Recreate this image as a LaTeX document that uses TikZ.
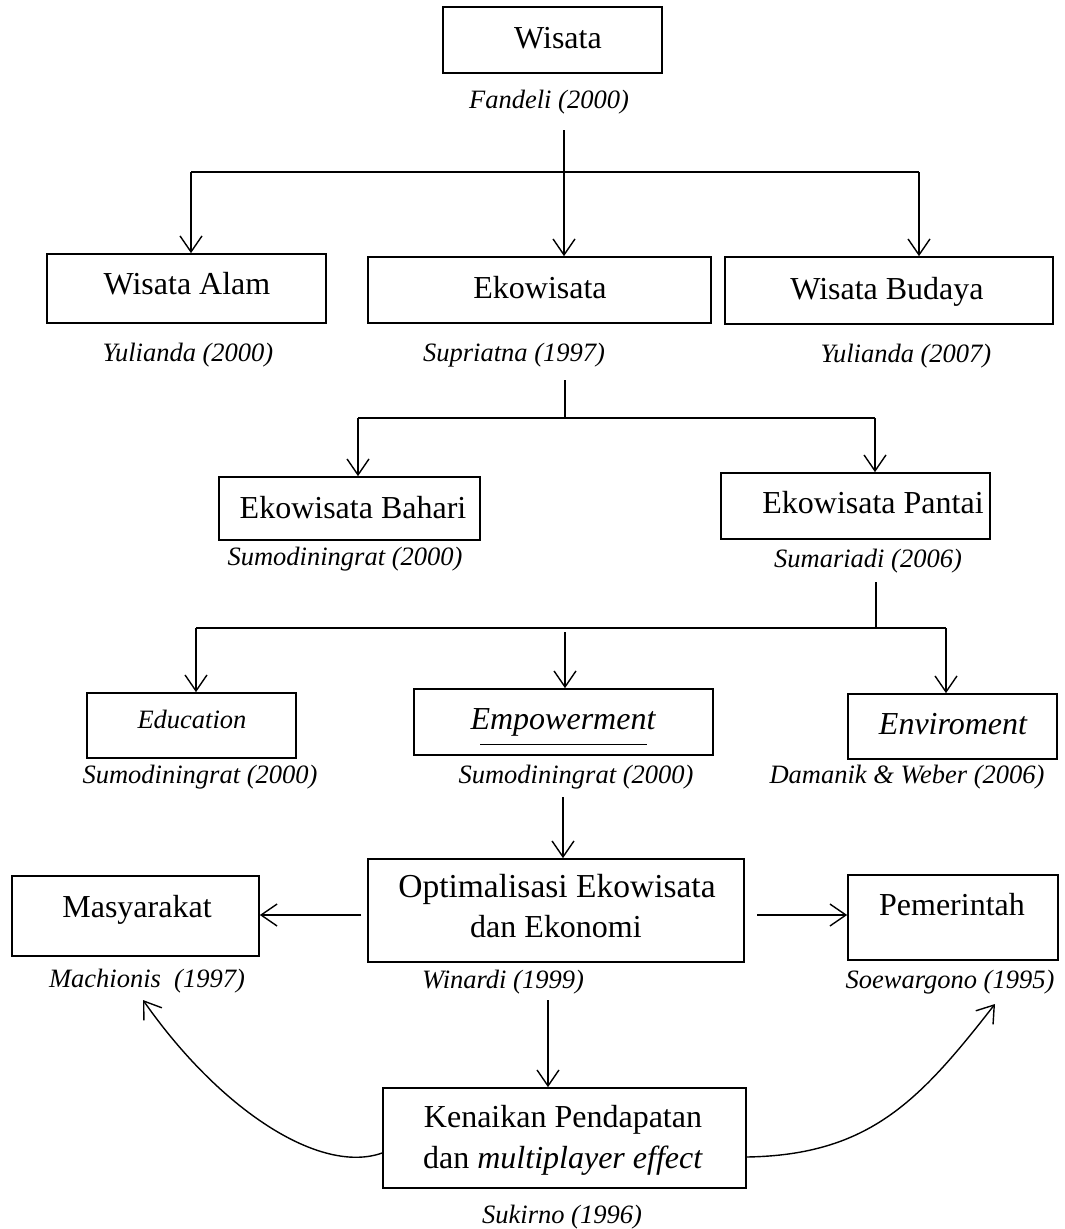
\documentclass[tikz,border=0pt]{standalone}
\usepackage{fontspec}
\setmainfont{Liberation Serif}
\usetikzlibrary{arrows.meta,fit}
\begin{document}
\begin{tikzpicture}[x=1pt,y=-1pt,
  box/.style={draw, line width=1.7pt, inner sep=0pt},
  lbl/.style={font=\fontsize{32}{40}\selectfont, anchor=base, inner sep=0pt},
  ref/.style={font=\fontsize{26.5}{32}\selectfont\itshape, anchor=base, inner sep=0pt},
  ln/.style={line width=1.4pt},
  arr/.style={line width=1.4pt, -{Straight Barb[length=16pt,width=22pt]}}
]
\useasboundingbox (0,0) rectangle (1065,1229);

% boxes
\node[box, fit={(443,7) (662,73)}] (wisata) {};
\node[box, fit={(47,254) (326,323)}] (alam) {};
\node[box, fit={(368,257) (711,323)}] (eko) {};
\node[box, fit={(725,257) (1053,324)}] (budaya) {};
\node[box, fit={(219,477) (480,540)}] (bahari) {};
\node[box, fit={(721,473) (990,539)}] (pantai) {};
\node[box, fit={(87,693) (296,758)}] (edu) {};
\node[box, fit={(414,689) (713,755)}] (emp) {};
\node[box, fit={(848,694) (1057,759)}] (env) {};
\node[box, fit={(368,859) (744,962)}] (opt) {};
\node[box, fit={(12,876) (259,956)}] (mas) {};
\node[box, fit={(848,875) (1058,960)}] (pem) {};
\node[box, fit={(383,1088) (746,1188)}] (ken) {};

% texts
\node[lbl] (t1) at (558,48) {Wisata};
\node[ref] (r1) at (549,108) {Fandeli (2000)};
\node[lbl] (t2) at (187,294) {Wisata Alam};
\node[ref] (r2) at (188,361) {Yulianda (2000)};
\node[lbl] (t3) at (540,298) {Ekowisata};
\node[ref] (r3) at (514,361) {Supriatna (1997)};
\node[lbl] (t4) at (887,299) {Wisata Budaya};
\node[ref] (r4) at (906,362) {Yulianda (2007)};
\node[lbl] (t5) at (353,518) {Ekowisata Bahari};
\node[ref] (r5) at (345,565) {Sumodiningrat (2000)};
\node[lbl] (t6) at (873,513) {Ekowisata Pantai};
\node[ref] (r6) at (868,567) {Sumariadi (2006)};
\node[ref] (t7) at (192,728) {Education};
\node[ref] (r7) at (200,783) {Sumodiningrat (2000)};
\node[lbl, font=\fontsize{32}{40}\selectfont\itshape] (t8) at (563,729) {Empowerment};
\node[ref] (r8) at (576,783) {Sumodiningrat (2000)};
\node[lbl, font=\fontsize{32}{40}\selectfont\itshape] (t9) at (953,734) {Enviroment};
\node[ref] (r9) at (907,783) {Damanik \& Weber (2006)};
\node[lbl, font=\fontsize{33.5}{40}\selectfont] (t10a) at (557,897) {Optimalisasi Ekowisata};
\node[lbl] (t10b) at (556,937) {dan Ekonomi};
\node[ref] (r10) at (503,988) {Winardi (1999)};
\node[lbl] (t11) at (137,917) {Masyarakat};
\node[ref] (r11) at (147,987) {Machionis\ \ (1997)};
\node[lbl] (t12) at (952,915) {Pemerintah};
\node[ref] (r12) at (950,988) {Soewargono (1995)};
\node[lbl] (t13a) at (563,1127) {Kenaikan Pendapatan};
\node[lbl] (t13b) at (563,1168) {dan \textit{multiplayer effect}};
\node[ref] (r13) at (562,1223) {Sukirno (1996)};

% underline under Empowerment
\coordinate (u1) at (480,744);
\coordinate (u2) at (647,744);
\draw[line width=1pt] (u1) -- (u2);

% level 1 -> 2
\coordinate (a0) at (564,130);
\coordinate (b1) at (191,172);
\coordinate (b2) at (919,172);
\draw[ln] (b1) -- (b2);
\draw[arr] (a0) -- (a0 |- eko.north);
\draw[arr] (b1) -- (b1 |- alam.north);
\draw[arr] (b2) -- (b2 |- budaya.north);

% level 2 -> 3
\coordinate (c0) at (565,380);
\coordinate (c1) at (358,418);
\coordinate (c2) at (875,418);
\draw[ln] (c0) -- (c0 |- c1);
\draw[ln] (c1) -- (c2);
\draw[arr] (c1) -- (c1 |- bahari.north);
\draw[arr] (c2) -- (c2 |- pantai.north);

% level 3 -> 5
\coordinate (d0) at (876,582);
\coordinate (d1) at (196,628);
\coordinate (d2) at (946,628);
\coordinate (d3) at (565,632);
\draw[ln] (d0) -- (d0 |- d1);
\draw[ln] (d1) -- (d2);
\draw[arr] (d1) -- (d1 |- edu.north);
\draw[arr] (d3) -- (d3 |- emp.north);
\draw[arr] (d2) -- (d2 |- env.north);

% empowerment -> optimalisasi
\coordinate (e0) at (563,797);
\draw[arr] (e0) -- (e0 |- opt.north);

% optimalisasi -> masyarakat / pemerintah
\coordinate (f1) at (361,915);
\coordinate (f2) at (757,915);
\draw[arr] (f1) -- (f1 -| mas.east);
\draw[arr] (f2) -- (f2 -| pem.west);

% optimalisasi -> kenaikan
\coordinate (g0) at (548,1000);
\draw[arr] (g0) -- (g0 |- ken.north);

% curves
\coordinate (h1) at (143,1000);
\coordinate (h2) at (995,1004);
\draw[arr] ([yshift=-15pt]ken.west) .. controls (320,1175) and (220,1110) .. (h1);
\draw[arr] ([yshift=-19pt]ken.east) .. controls (870,1155) and (920,1100) .. (h2);
\end{tikzpicture}
\end{document}
